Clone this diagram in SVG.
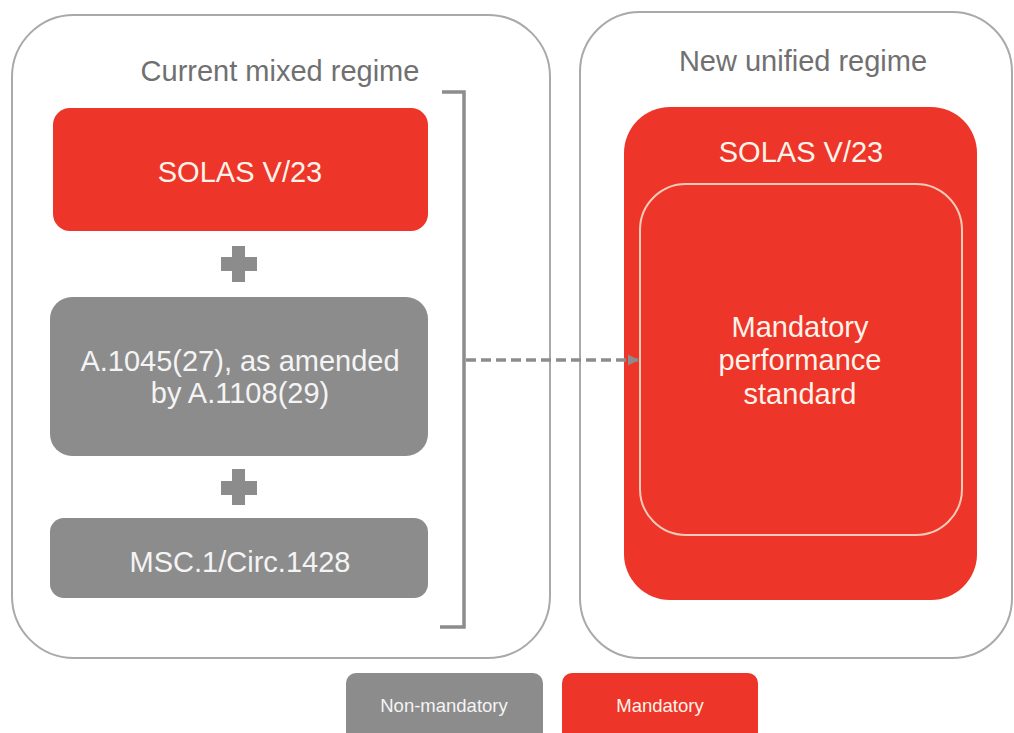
<svg xmlns="http://www.w3.org/2000/svg" width="1014" height="733" viewBox="0 0 1014 733">
  <style>
    .frame { fill: #ffffff; stroke: #a9a9a9; stroke-width: 2; }
    .red { fill: #ee3529; }
    .gray { fill: #8c8c8c; }
    .title { font-family: "Liberation Sans", Arial, sans-serif; font-size: 29px; fill: #707070; text-anchor: middle; }
    .lbl { font-family: "Liberation Sans", Arial, sans-serif; font-size: 29px; text-anchor: middle; }
    .onred { fill: #fff3ea; }
    .ongray { fill: #f4f4f4; }
    .leg { font-family: "Liberation Sans", Arial, sans-serif; font-size: 18.5px; text-anchor: middle; }
    .bracket { fill: none; stroke: #8c8c8c; stroke-width: 3.5; }
    .dash { fill: none; stroke: #8c8c8c; stroke-width: 3.5; stroke-dasharray: 10 5; }
  </style>
  <defs>
    <marker id="arrow" viewBox="0 0 10 10" refX="9" refY="5" markerWidth="3.2" markerHeight="3.2" orient="auto" markerUnits="strokeWidth">
      <path d="M0,0 L10,5 L0,10 Z" fill="#8c8c8c"/>
    </marker>
  </defs>
  <rect width="1014" height="733" fill="#ffffff"/>

  <g id="current-regime">
    <rect class="frame" x="12" y="15" width="538" height="643" rx="62"/>
    <text class="title" x="280" y="81">Current mixed regime</text>
  </g>

  <g id="new-regime">
    <rect class="frame" x="580" y="12" width="432" height="646" rx="60"/>
    <text class="title" x="803" y="71">New unified regime</text>
  </g>

  <g id="solas-left">
    <rect class="red" x="53" y="108" width="375" height="123" rx="17"/>
    <text class="lbl onred" x="240" y="182">SOLAS V/23</text>
  </g>

  <g id="plus-1">
    <rect class="gray" x="232" y="246" width="13" height="36"/>
    <rect class="gray" x="221" y="257" width="36" height="14"/>
  </g>

  <g id="a1045">
    <rect class="gray" x="50" y="297" width="378" height="159" rx="22"/>
    <text class="lbl ongray" x="240" y="371">A.1045(27), as amended</text>
    <text class="lbl ongray" x="240" y="403">by A.1108(29)</text>
  </g>

  <g id="plus-2">
    <rect class="gray" x="232" y="469" width="13" height="36"/>
    <rect class="gray" x="221" y="481" width="36" height="14"/>
  </g>

  <g id="msc">
    <rect class="gray" x="50" y="518" width="378" height="80" rx="14"/>
    <text class="lbl ongray" x="240" y="572">MSC.1/Circ.1428</text>
  </g>

  <g id="solas-right">
    <rect class="red" x="624" y="107" width="353" height="493" rx="46"/>
    <text class="lbl onred" x="801" y="162">SOLAS V/23</text>
  </g>

  <g id="mandatory-standard">
    <rect x="640" y="184" width="322" height="351" rx="46" fill="none" stroke="#f8cbb8" stroke-width="2"/>
    <text class="lbl onred" x="800" y="337">Mandatory</text>
    <text class="lbl onred" x="800" y="370">performance</text>
    <text class="lbl onred" x="800" y="404">standard</text>
  </g>

  <g id="connectors">
    <path class="bracket" d="M442,92 H464 V627 H440"/>
    <path class="dash" d="M466,360 H638" marker-end="url(#arrow)"/>
  </g>

  <g id="legend-nonmandatory">
    <rect class="gray" x="346" y="673" width="197" height="75" rx="10"/>
    <text class="leg ongray" x="444" y="712">Non-mandatory</text>
  </g>

  <g id="legend-mandatory">
    <rect class="red" x="562" y="673" width="196" height="75" rx="10"/>
    <text class="leg onred" x="660" y="712">Mandatory</text>
  </g>
</svg>
